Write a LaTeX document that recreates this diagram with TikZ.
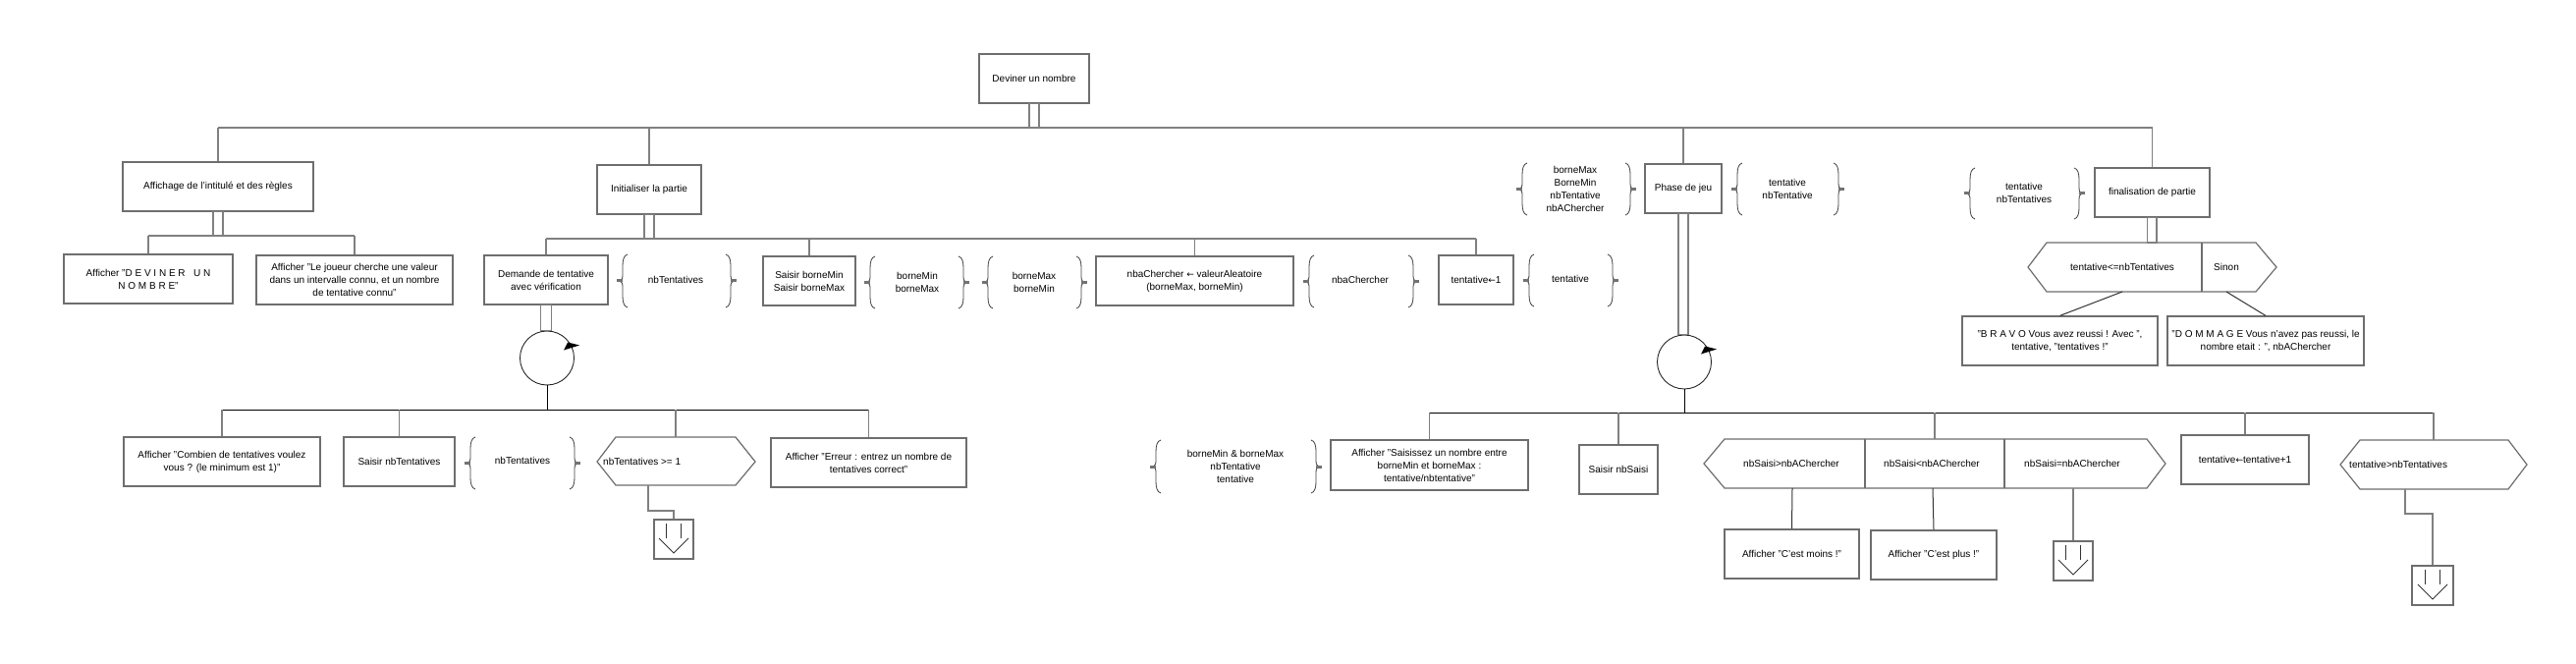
\documentclass[tikz,border=0pt]{standalone}
\usepackage{fontspec}
\setmainfont{Liberation Sans}
\newfontfamily\arrowfont{DejaVu Sans}
\usetikzlibrary{calc}
\definecolor{boxgray}{RGB}{110,110,110}
\definecolor{linegray}{RGB}{128,128,128}
\definecolor{markgray}{RGB}{115,115,115}
\newcommand\dgfont{\fontsize{10}{13}\selectfont}
\newcommand\larr{{\arrowfont\fontsize{9}{13}\selectfont ←}}
\newcommand\dfgroup[4]{%
 \pgfmathsetmacro\dfm{(#3+#4)/2}%
 \draw[brc] ({#1+5},{#3}) .. controls ({#1+1},{#3+1}) and ({#1},{#3+6}) .. ({#1},{#3+12}) -- ({#1},{\dfm-6}) .. controls ({#1},{\dfm-2}) and ({#1-1},{\dfm-1}) .. ({#1-3},{\dfm}) .. controls ({#1-1},{\dfm+1}) and ({#1},{\dfm+2}) .. ({#1},{\dfm+6}) -- ({#1},{#4-12}) .. controls ({#1},{#4-6}) and ({#1+1},{#4-1}) .. ({#1+5},{#4});
 \draw[brc] ({#2-5},{#3}) .. controls ({#2-1},{#3+1}) and ({#2},{#3+6}) .. ({#2},{#3+12}) -- ({#2},{\dfm-6}) .. controls ({#2},{\dfm-2}) and ({#2+1},{\dfm-1}) .. ({#2+3},{\dfm}) .. controls ({#2+1},{\dfm+1}) and ({#2},{\dfm+2}) .. ({#2},{\dfm+6}) -- ({#2},{#4-12}) .. controls ({#2},{#4-6}) and ({#2-1},{#4-1}) .. ({#2-5},{#4});
 \draw[dfmark] ({#1-6},{\dfm}) -- ({#1},{\dfm});
 \draw[dfmark] ({#2},{\dfm}) -- ({#2+6},{\dfm});
}
\newcommand\exitmark[2]{%
 \draw[emk] ({#1-8},{#2-16}) -- ({#1-8},{#2-1});
 \draw[emk] ({#1+7},{#2-16}) -- ({#1+7},{#2-1});
 \draw[emk] ({#1-15},{#2-1}) -- ({#1},{#2+14}) -- ({#1+15},{#2-1});
}
\begin{document}
\begin{tikzpicture}[x=1pt,y=-1pt,
  box/.style={draw=boxgray, line width=1.2pt, inner sep=1pt, align=center, font=\dgfont, minimum height=50pt},
  txt/.style={inner sep=0pt, align=center, font=\dgfont},
  conn/.style={draw=linegray, line width=1.3pt},
  lbus/.style={draw=black, line width=1pt},
  stemr/.style={draw=linegray, line width=1.1pt},
  hexs/.style={draw=boxgray, line width=1.2pt},
  brc/.style={draw=black!75, line width=0.8pt},
  dfmark/.style={draw=markgray, line width=3pt},
  emk/.style={draw=black!80, line width=0.8pt},
  loopc/.style={draw=black!85, line width=0.9pt, circle, minimum size=55pt, inner sep=0pt},
  exitb/.style={draw=boxgray, line width=1.2pt, minimum width=40pt, minimum height=40pt, inner sep=0pt}]
\fill[white] (0,0) rectangle (2623,676);
\useasboundingbox (0,0) rectangle (2623,676);

% ---------- boxes ----------
\node[box, minimum width=112pt] (top) at (1053,80) {Deviner un nombre};
\node[box, minimum width=194pt] (aff) at (222,190) {Affichage de l'intitulé et des règles};
\node[box, minimum width=172pt] (dev) at (151,284) {Afficher "D E V I N E R \ \ U N\\N O M B R E"};
\node[box, minimum width=200pt] (joueur) at (361,285) {Afficher "Le joueur cherche une valeur\\dans un intervalle connu, et un nombre\\de tentative connu"};
\node[box, minimum width=106pt] (init) at (661,193) {Initialiser la partie};
\node[box, minimum width=126pt] (dem) at (556,285) {Demande de tentative\\avec vérification};
\node[box, minimum width=94pt] (saisirB) at (824,286) {Saisir borneMin\\Saisir borneMax};
\node[box, minimum width=201pt] (nba) at (1216.5,286) {nbaChercher \larr{} valeurAleatoire\\(borneMax, borneMin)};
\node[box, minimum width=76pt] (t1) at (1503,285) {tentative\larr1};
\node[box, minimum width=78pt] (phase) at (1714,192) {Phase de jeu};
\node[box, minimum width=117pt] (fin) at (2191.5,196) {finalisation de partie};
\node[box, minimum width=199pt] (bravo) at (2097.5,347) {"B R A V O Vous avez reussi ! Avec ",\\tentative, "tentatives !"};
\node[box, minimum width=200pt] (dommage) at (2307,347) {"D O M M A G E Vous n'avez pas reussi, le\\nombre etait : ", nbAChercher};
\node[box, minimum width=200pt] (combien) at (226,470) {Afficher "Combien de tentatives voulez\\vous ? (le minimum est 1)"};
\node[box, minimum width=113pt] (saisirNb) at (406.5,470) {Saisir nbTentatives};
\node[box, minimum width=199pt] (erreur) at (884.5,471) {Afficher "Erreur : entrez un nombre de\\tentatives correct"};
\node[box, minimum width=201pt, minimum height=51pt] (saisissez) at (1455.5,473.5) {Afficher "Saisissez un nombre entre\\borneMin et borneMax :\\tentative/nbtentative"};
\node[box, minimum width=80pt] (nbSaisi) at (1648,478) {Saisir nbSaisi};
\node[box, minimum width=137pt] (moins) at (1824.5,564) {Afficher "C'est moins !"};
\node[box, minimum width=128pt] (plus) at (1969,565) {Afficher "C'est plus !"};
\node[box, minimum width=130pt] (incr) at (2286,468) {tentative\larr{}tentative+1};

% ---------- hexagons ----------
\draw[hexs] (2065,272) -- (2084,247) -- (2297,247) -- (2318,272) -- (2297,297) -- (2084,297) -- cycle;
\draw[hexs] (2242,247) -- (2242,297);
\node[txt] (h1a) at (2161,272) {tentative<=nbTentatives};
\node[txt] (h1b) at (2267,272) {Sinon};
\coordinate (h1top) at (2191,247);
\coordinate (h1bl) at (2161,297);
\coordinate (h1br) at (2267,297);

\draw[hexs] (608,470) -- (627,445) -- (749,445) -- (769,470) -- (749,494) -- (627,494) -- cycle;
\node[txt, anchor=west] (h2t) at (614,470) {nbTentatives >= 1};
\coordinate (h2top) at (688,445);
\coordinate (h2bot) at (660,494);

\draw[hexs] (1735,472) -- (1756,447) -- (2186,447) -- (2205,472) -- (2186,497) -- (1756,497) -- cycle;
\draw[hexs] (1899,447) -- (1899,497);
\draw[hexs] (2041,447) -- (2041,497);
\node[txt] (h3a) at (1824,472) {nbSaisi>nbAChercher};
\node[txt] (h3b) at (1967,472) {nbSaisi<nbAChercher};
\node[txt] (h3c) at (2110,472) {nbSaisi=nbAChercher};
\coordinate (h3top) at (1970,447);
\coordinate (h3b1) at (1825,497);
\coordinate (h3b2) at (1968,497);
\coordinate (h3b3) at (2111,497);

\draw[hexs] (2383,473) -- (2403,448) -- (2554,448) -- (2573,473) -- (2554,498) -- (2403,498) -- cycle;
\node[txt, anchor=west] (h4t) at (2392,473) {tentative>nbTentatives};
\coordinate (h4top) at (2478,448);
\coordinate (h4bot) at (2449,498);

% ---------- exit boxes ----------
\node[exitb] (e1) at (686,549) {};
\exitmark{686}{549}
\node[exitb] (e2) at (2111,571) {};
\exitmark{2111}{571}
\node[exitb, minimum width=42pt] (e3) at (2477,596) {};
\exitmark{2477}{596}

% ---------- loops ----------
\node[loopc] (c1) at (557,364.5) {};
\fill[black] ($(c1)+(21,-16)$) -- ($(c1)+(33,-13)$) -- ($(c1)+(17,-8)$) -- cycle;
\node[loopc] (c2) at (1715,368.5) {};
\fill[black] ($(c2)+(21,-16)$) -- ($(c2)+(33,-13)$) -- ($(c2)+(17,-8)$) -- cycle;

% ---------- bus coordinates ----------
\coordinate (mb) at (1053,130);
\coordinate (ab) at (222,240);
\coordinate (ib) at (661,243);
\coordinate (lb1) at (557,417);
\coordinate (lb2) at (1715,420);

% ---------- stems (double lines) ----------
\draw[stemr] ($(top.south)+(-5,0)$) rectangle ($(top.south |- mb)+(5,0)$);
\draw[stemr] ($(aff.south)+(-5,0)$) rectangle ($(aff.south |- ab)+(5,0)$);
\draw[stemr] ($(init.south)+(-5,0)$) rectangle ($(init.south |- ib)+(5,0)$);
\draw[stemr] ($(fin.south)+(-5,0)$) rectangle ($(h1top)+(5,0)$);
\draw[stemr] ($(dem.south)+(-5.5,0)$) rectangle ($(dem.south |- c1.north)+(5.5,0)$);
\draw[stemr] ($(phase.south)+(-5,0)$) rectangle ($(phase.south |- c2.north)+(5,0)$);

% ---------- main bus ----------
\draw[conn] (aff.north |- mb) -- (fin.north |- mb);
\draw[conn] (aff.north) -- (aff.north |- mb);
\draw[conn] (init.north) -- (init.north |- mb);
\draw[conn] (phase.north) -- (phase.north |- mb);
\draw[conn] (fin.north) -- (fin.north |- mb);

% ---------- sub bus affichage ----------
\draw[conn] (dev.north |- ab) -- (joueur.north |- ab);
\draw[conn] (dev.north) -- (dev.north |- ab);
\draw[conn] (joueur.north) -- (joueur.north |- ab);

% ---------- sub bus init ----------
\draw[conn] (dem.north |- ib) -- (t1.north |- ib);
\draw[conn] (dem.north) -- (dem.north |- ib);
\draw[conn] (saisirB.north) -- (saisirB.north |- ib);
\draw[conn] (nba.north) -- (nba.north |- ib);
\draw[conn] (t1.north) -- (t1.north |- ib);

% ---------- finalisation ----------
\draw[conn, line width=1pt, draw=black!80] (h1bl) -- (bravo.north);
\draw[conn, line width=1pt, draw=black!80] (h1br) -- (dommage.north);

% ---------- loop 1 ----------
\draw[lbus] (c1.south) -- (c1.south |- lb1);
\draw[lbus] (combien.north |- lb1) -- (erreur.north |- lb1);
\draw[conn] (combien.north) -- (combien.north |- lb1);
\draw[conn] (saisirNb.north) -- (saisirNb.north |- lb1);
\draw[conn] (h2top) -- (h2top |- lb1);
\draw[conn] (erreur.north) -- (erreur.north |- lb1);
\draw[conn] (h2bot) -- ++(0,26) -| (e1.north);

% ---------- loop 2 ----------
\draw[lbus] (c2.south) -- (c2.south |- lb2);
\draw[lbus] (saisissez.north |- lb2) -- (h4top |- lb2);
\draw[conn] (saisissez.north) -- (saisissez.north |- lb2);
\draw[conn] (nbSaisi.north) -- (nbSaisi.north |- lb2);
\draw[conn] (h3top) -- (h3top |- lb2);
\draw[conn] (incr.north) -- (incr.north |- lb2);
\draw[conn] (h4top) -- (h4top |- lb2);
\draw[conn, line width=1pt, draw=black!80] (h3b1) -- (moins.north);
\draw[conn, line width=1pt, draw=black!80] (h3b2) -- (plus.north);
\draw[conn] (h3b3) -- (e2.north);
\draw[conn] (h4bot) -- ++(0,25) -| (e3.north);

% ---------- data-flow braces ----------
\dfgroup{634}{744}{259}{313}
\node[txt] (g1) at (688,285) {nbTentatives};
\dfgroup{886}{981}{261}{314}
\node[txt] (g2) at (934,287) {borneMin\\borneMax};
\dfgroup{1006}{1101}{261}{314}
\node[txt] (g3) at (1053,287) {borneMax\\borneMin};
\dfgroup{1333}{1439}{260}{313}
\node[txt] (g4) at (1385,285) {nbaChercher};
\dfgroup{1557}{1642}{259}{312}
\node[txt] (g5) at (1599,284) {tentative};
\dfgroup{1550}{1660}{166}{219}
\node[txt] (g6) at (1604,192) {borneMax\\BorneMin\\nbTentative\\nbAChercher};
\dfgroup{1769}{1872}{166}{219}
\node[txt] (g7) at (1820,192) {tentative\\nbTentative};
\dfgroup{2006}{2117}{171}{223}
\node[txt] (g8) at (2061,196) {tentative\\nbTentatives};
\dfgroup{479}{585}{445}{498}
\node[txt] (g9) at (532,469) {nbTentatives};
\dfgroup{1177}{1340}{448}{502}
\node[txt] (g10) at (1258,475) {borneMin \& borneMax\\nbTentative\\tentative};
\end{tikzpicture}
\end{document}
